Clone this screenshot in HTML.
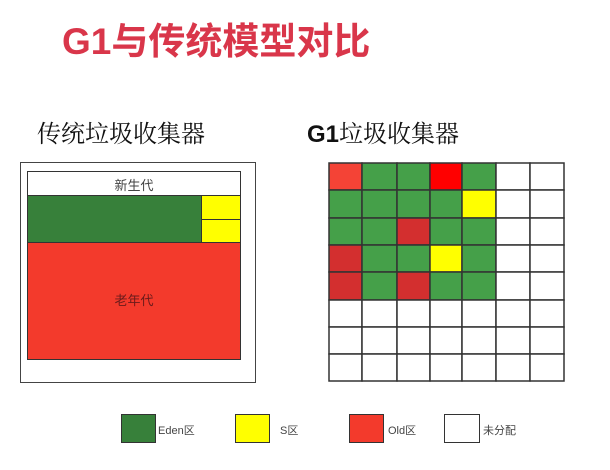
<!DOCTYPE html>
<html><head><meta charset="utf-8"><style>
body{margin:0;width:610px;height:470px;background:#fff;position:relative;overflow:hidden;font-family:"Liberation Sans","Noto Sans CJK SC",sans-serif}
.a{position:absolute;box-sizing:border-box}
.t{position:absolute;white-space:nowrap}
</style></head><body>
<div class="t" style="left:62px;top:11px;font-size:37px;font-weight:bold;color:#d9364a">G1与传统模型对比</div>
<div class="t" style="left:37px;top:114px;font-size:24px;font-family:'Noto Serif CJK SC','Liberation Serif',serif;color:#111">传统垃圾收集器</div>
<div class="t" style="left:307px;top:114px;font-size:24px;color:#111"><b>G1</b><span style="font-family:'Noto Serif CJK SC',serif">垃圾收集器</span></div>

<div class="a" style="left:20px;top:162px;width:236px;height:221px;border:1.5px solid #444"></div>
<div class="a" style="left:27px;top:171px;width:214px;height:189px;border:1.5px solid #333;background:#fff"></div>
<div class="a" style="left:27px;top:242px;width:214px;height:118px;border:1.5px solid #333;background:#f33a2c"></div>
<div class="t" style="left:27px;top:175px;width:214px;text-align:center;font-size:13px;color:#444">新生代</div>
<div class="a" style="left:27px;top:195px;width:175px;height:48px;border:1.5px solid #333;background:#37803a"></div>
<div class="a" style="left:201px;top:195px;width:40px;height:25px;border:1.5px solid #333;background:#ffff00"></div>
<div class="a" style="left:201px;top:219px;width:40px;height:24px;border:1.5px solid #333;background:#ffff00"></div>
<div class="t" style="left:27px;top:290px;width:214px;text-align:center;font-size:13px;color:#6a1b1b">老年代</div>

<svg class="a" style="left:0;top:0" width="610" height="470">
<g id="g" stroke="#333" stroke-width="1.5"></g>
</svg>
<script>
var xs=[329,362,397,430,462,496,530,564],ys=[163,190,218,245,272,300,327,354,381];
var R='#f44336',B='#ff0000',D='#d32f2f',G='#45a049',Y='#ffff00',W='#fff';
var m=[[R,G,G,B,G,W,W],[G,G,G,G,Y,W,W],[G,G,D,G,G,W,W],[D,G,G,Y,G,W,W],[D,G,D,G,G,W,W],[W,W,W,W,W,W,W],[W,W,W,W,W,W,W],[W,W,W,W,W,W,W]];
var s='';for(var r=0;r<8;r++)for(var c=0;c<7;c++)s+='<rect x="'+xs[c]+'" y="'+ys[r]+'" width="'+(xs[c+1]-xs[c])+'" height="'+(ys[r+1]-ys[r])+'" fill="'+m[r][c]+'"/>';
document.getElementById('g').innerHTML=s;
</script>

<div class="a" style="left:121px;top:414px;width:35px;height:29px;border:1.5px solid #333;background:#37803a"></div>
<div class="t" style="left:158px;top:422px;font-size:11px;color:#444">Eden区</div>
<div class="a" style="left:235px;top:414px;width:35px;height:29px;border:1.5px solid #333;background:#ffff00"></div>
<div class="t" style="left:280px;top:422px;font-size:11px;color:#444">S区</div>
<div class="a" style="left:349px;top:414px;width:35px;height:29px;border:1.5px solid #333;background:#f33a2c"></div>
<div class="t" style="left:388px;top:422px;font-size:11px;color:#444">Old区</div>
<div class="a" style="left:444px;top:414px;width:36px;height:29px;border:1.5px solid #333;background:#fff"></div>
<div class="t" style="left:483px;top:422px;font-size:11px;color:#444">未分配</div>
</body></html>
